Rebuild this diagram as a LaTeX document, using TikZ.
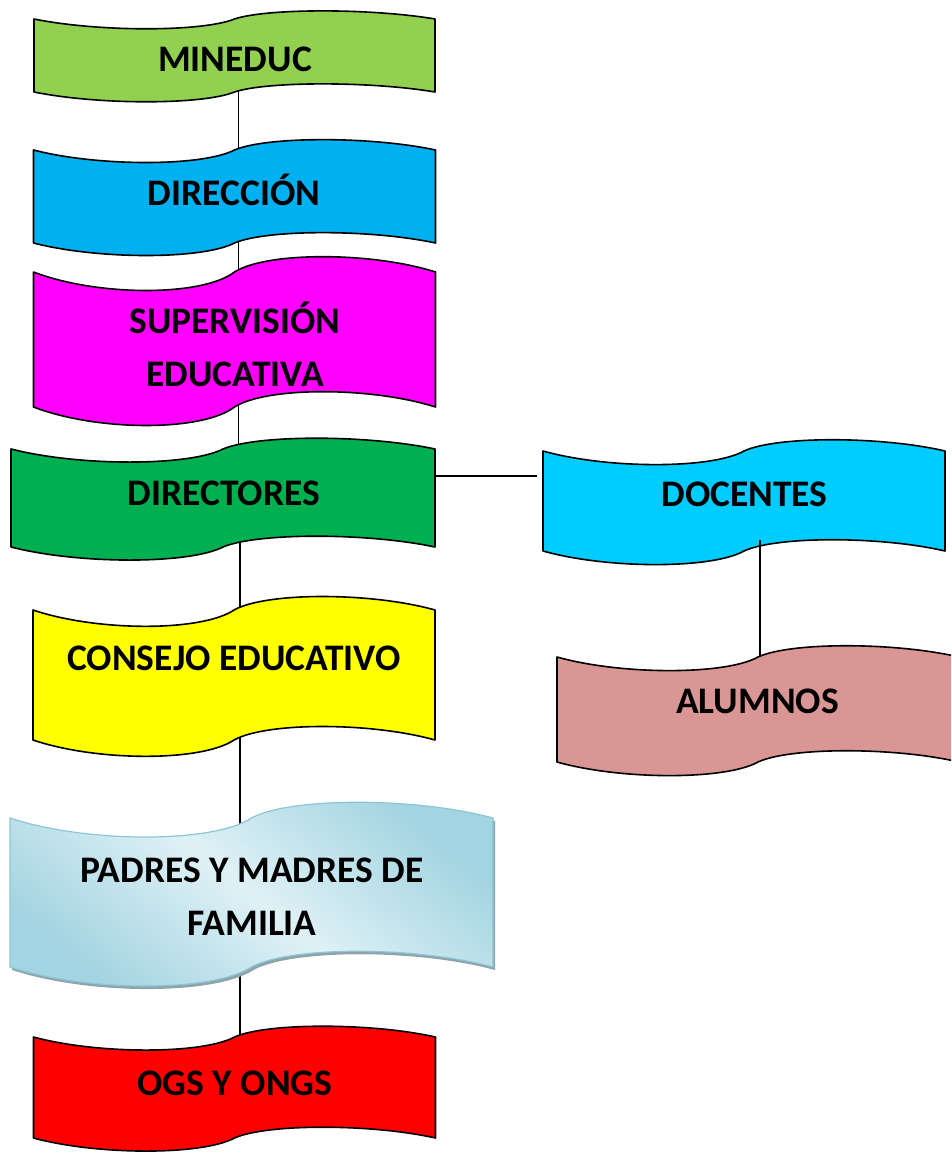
\documentclass[tikz,border=0pt]{standalone}
\usepackage{fontspec}
\setmainfont{Carlito}
\usetikzlibrary{backgrounds}
\definecolor{cMin}{HTML}{92D050}
\definecolor{cDir}{HTML}{00B0F0}
\definecolor{cSup}{HTML}{FF00FF}
\definecolor{cDirs}{HTML}{00B050}
\definecolor{cDoc}{HTML}{00CCFF}
\definecolor{cCon}{HTML}{FFFF00}
\definecolor{cAlu}{HTML}{D99694}
\definecolor{cOgs}{HTML}{FF0000}
\definecolor{cPadD}{HTML}{A3D4E1}
\definecolor{cPadL}{HTML}{DFF1F6}
\definecolor{cPadB}{HTML}{8CC6D6}
\definecolor{cShadow}{HTML}{8FA3AB}
\newcommand{\wavebox}[6]{%
  \pgfmathsetmacro\wxA{#2+0.16*#4}%
  \pgfmathsetmacro\wxB{#2+0.42*#4}%
  \pgfmathsetmacro\wxM{#2+0.5*#4}%
  \pgfmathsetmacro\wxC{#2+0.58*#4}%
  \pgfmathsetmacro\wxD{#2+0.84*#4}%
  \pgfmathsetmacro\wxR{#2+#4}%
  \pgfmathsetmacro\wyTd{#3+1.45*#6}%
  \pgfmathsetmacro\wyTu{#3-1.2*#6}%
  \pgfmathsetmacro\wyB{#3+#5}%
  \pgfmathsetmacro\wyBd{\wyB+1.45*#6}%
  \pgfmathsetmacro\wyBu{\wyB-1.2*#6}%
  \path[#1] (#2,#3) .. controls (\wxA,\wyTd) and (\wxB,\wyTd) .. (\wxM,#3)
    .. controls (\wxC,\wyTu) and (\wxD,\wyTu) .. (\wxR,#3) -- (\wxR,\wyB)
    .. controls (\wxD,\wyBu) and (\wxC,\wyBu) .. (\wxM,\wyB)
    .. controls (\wxB,\wyBd) and (\wxA,\wyBd) .. (#2,\wyB) -- cycle;%
}
\tikzset{
  wbox/.style={draw=black, line width=1.6pt, line join=round},
  conn/.style={draw=black, line width=1.2pt},
  lbl/.style={font=\fontsize{37.5}{53}\selectfont\bfseries, anchor=base, inner sep=0pt, align=center},
}
\begin{document}
\begin{tikzpicture}[x=1pt,y=-1pt]
\useasboundingbox (0,0) rectangle (951,1153);
\clip (0,0) rectangle (951,1153);
\coordinate (sp1) at (238.5,0);
\coordinate (sp2) at (240,0);
\coordinate (hl) at (537,476);
\coordinate (dtop) at (760,540);
\coordinate (atop) at (760,670);

\wavebox{wbox, fill=cMin}{34}{19}{401}{73}{9}
\node[lbl] (mineduc) at (235,71.5) {MINEDUC};

\wavebox{wbox, fill=cDir}{33.5}{150}{402}{93}{11.5}
\node[lbl] (direccion) at (234,205) {DIRECCIÓN};

\wavebox{wbox, fill=cSup}{33.5}{272}{402}{135}{17}
\node[lbl] (supervision) at (235,386.5) {SUPERVISIÓN\\EDUCATIVA};

\wavebox{wbox, fill=cDirs}{11}{449}{424}{98}{12}
\node[lbl] (directores) at (224,505.5) {DIRECTORES};

\wavebox{wbox, fill=cDoc}{543}{451}{402}{100}{12.5}
\node[lbl] (docentes) at (744.5,506) {DOCENTES};

\draw[conn] (dtop) -- (atop);

\wavebox{wbox, fill=cAlu}{557}{657}{402}{105}{12.5}
\node[lbl] (alumnos) at (757.5,713) {ALUMNOS};

\wavebox{wbox, fill=cCon}{33}{610}{402}{130}{15}
\node[lbl] (consejo) at (234,670.5) {CONSEJO EDUCATIVO};

\wavebox{fill=cShadow}{12}{821}{483}{149}{17.5}
\wavebox{draw=cPadB, line width=1.2pt, top color=cPadD, bottom color=cPadD, middle color=cPadL, shading angle=-40}{10}{818}{483}{149}{17.5}
\node[lbl] (padres) at (252,935.5) {PADRES Y MADRES DE\\FAMILIA};

\wavebox{wbox, fill=cOgs}{33.5}{1037}{402}{101}{12}
\node[lbl] (ogs) at (235,1095) {OGS Y ONGS};

\begin{scope}[on background layer]
\draw[conn] (mineduc.center -| sp1) -- (direccion.center -| sp1);
\draw[conn] (direccion.center -| sp1) -- (supervision.center -| sp1);
\draw[conn] (supervision.center -| sp1) -- (directores.center -| sp1);
\draw[conn] (directores.center -| sp2) -- (consejo.center -| sp2);
\draw[conn] (consejo.center -| sp2) -- (padres.center -| sp2);
\draw[conn] (padres.center -| sp2) -- (ogs.center -| sp2);
\draw[conn] (directores.center |- hl) -- (hl);
\end{scope}
\end{tikzpicture}
\end{document}
